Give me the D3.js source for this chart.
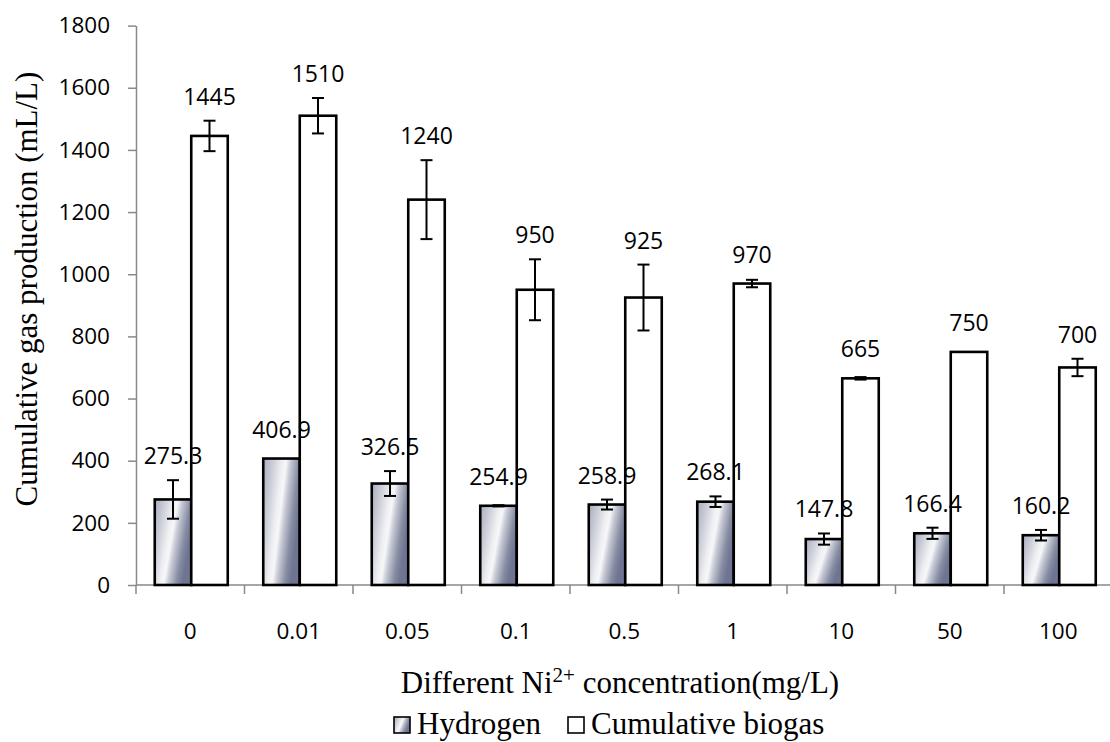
<!DOCTYPE html>
<html>
<head>
<meta charset="utf-8">
<script src="https://cdn.jsdelivr.net/npm/d3@7"></script>
<style>
  html, body { margin: 0; padding: 0; background: #fff; }
  svg { display: block; }
</style>
</head>
<body>
<svg id="chart" width="1110" height="742"></svg>
<script>
// Ni2+ concentration levels (mg/L)
const categories = ["0", "0.01", "0.05", "0.1", "0.5", "1", "10", "50", "100"];
// Hydrogen yield (mL/L) and its standard deviation
const hydrogen = [275.3, 406.9, 326.5, 254.9, 258.9, 268.1, 147.8, 166.4, 160.2];
const hydrogenErr = [62, 0, 40, 2, 16, 17, 18, 18, 17];
// Cumulative biogas (mL/L) and its standard deviation
const biogas = [1445, 1510, 1240, 950, 925, 970, 665, 750, 700];
const biogasErr = [49, 57, 127, 98, 106, 12, 4, 0, 28];
const yTicks = [0, 200, 400, 600, 800, 1000, 1200, 1400, 1600, 1800];
const seriesNames = ["Hydrogen", "Cumulative biogas"];

const svg = d3.select("#chart");
const plotLeft = 136, plotRight = 1112.5, plotTop = 25.6, plotBottom = 585;

const x = d3.scaleBand().domain(categories).range([plotLeft, plotRight]).paddingInner(0).paddingOuter(0);
const y = d3.scaleLinear().domain([0, 1800]).range([plotBottom, plotTop]);
const barW = 36.5;
const numFont = "'Open Sans', sans-serif";
const serifFont = "'Liberation Serif', 'Times New Roman', serif";

// chrome-like diagonal fill for the hydrogen bars
const defs = svg.append("defs");
const grad = defs.append("linearGradient")
  .attr("id", "chrome")
  .attr("x1", "0").attr("y1", "0").attr("x2", "1").attr("y2", "0.4");
[
  [0.00, "#a8acbd"],
  [0.25, "#cdcfd9"],
  [0.45, "#eeeff2"],
  [0.55, "#f7f7f9"],
  [0.66, "#c6c9d4"],
  [0.86, "#858ba1"],
  [1.00, "#6e7492"]
].forEach(([o, c]) => grad.append("stop").attr("offset", o).attr("stop-color", c));

const axisColor = "#898989";

// y axis
const yAxis = svg.append("g")
  .attr("transform", `translate(${plotLeft},0)`)
  .call(d3.axisLeft(y).tickValues(yTicks).tickFormat(d3.format("d"))
    .tickSize(8).tickPadding(18).tickSizeOuter(0));
yAxis.select(".domain").attr("stroke", axisColor).attr("stroke-width", 1.5);
yAxis.selectAll(".tick line").attr("stroke", axisColor).attr("stroke-width", 1.5);
yAxis.selectAll(".tick text")
  .attr("font-family", numFont)
  .attr("font-size", 22.5)
  .attr("fill", "#000");

// x axis: ticks sit on category boundaries
const xAxisG = svg.append("g").attr("transform", `translate(0,${plotBottom})`);
xAxisG.append("line")
  .attr("x1", plotLeft).attr("x2", plotRight)
  .attr("stroke", axisColor).attr("stroke-width", 1.5);
xAxisG.selectAll("line.tk")
  .data(categories.concat(["end"]))
  .join("line")
  .attr("class", "tk")
  .attr("x1", (d, i) => plotLeft + i * x.bandwidth())
  .attr("x2", (d, i) => plotLeft + i * x.bandwidth())
  .attr("y1", 0).attr("y2", 9)
  .attr("stroke", axisColor).attr("stroke-width", 1.5);
xAxisG.selectAll("text")
  .data(categories)
  .join("text")
  .attr("x", d => x(d) + x.bandwidth() / 2)
  .attr("y", 54)
  .attr("text-anchor", "middle")
  .attr("font-family", numFont)
  .attr("font-size", 22.5)
  .text(d => d);

const rows = categories.map((c, i) => ({
  c, i,
  series: [
    { key: 0, v: hydrogen[i], e: hydrogenErr[i] },
    { key: 1, v: biogas[i], e: biogasErr[i] }
  ]
}));

const groupOffset = (x.bandwidth() - 2 * barW) / 2 + 1;

const groups = svg.append("g").selectAll("g")
  .data(rows)
  .join("g")
  .attr("transform", d => `translate(${x(d.c) + groupOffset},0)`);

// bars
groups.selectAll("rect")
  .data(d => d.series)
  .join("rect")
  .attr("x", d => d.key * barW)
  .attr("y", d => y(d.v))
  .attr("width", barW)
  .attr("height", d => y(0) - y(d.v))
  .attr("fill", d => d.key === 0 ? "url(#chrome)" : "#fff")
  .attr("stroke", "#000")
  .attr("stroke-width", 2.6);

// error bars
const capHalf = 6;
const errG = groups.selectAll("g.err")
  .data(d => d.series.filter(s => s.e > 0))
  .join("g")
  .attr("class", "err")
  .attr("stroke", "#000")
  .attr("stroke-width", 2);
errG.append("line")
  .attr("x1", d => d.key * barW + barW / 2).attr("x2", d => d.key * barW + barW / 2)
  .attr("y1", d => y(d.v + d.e)).attr("y2", d => y(d.v - d.e));
errG.append("line")
  .attr("x1", d => d.key * barW + barW / 2 - capHalf).attr("x2", d => d.key * barW + barW / 2 + capHalf)
  .attr("y1", d => y(d.v + d.e)).attr("y2", d => y(d.v + d.e));
errG.append("line")
  .attr("x1", d => d.key * barW + barW / 2 - capHalf).attr("x2", d => d.key * barW + barW / 2 + capHalf)
  .attr("y1", d => y(d.v - d.e)).attr("y2", d => y(d.v - d.e));

// value labels above each bar / error bar
groups.selectAll("text.val")
  .data(d => d.series)
  .join("text")
  .attr("class", "val")
  .attr("x", d => d.key * barW + barW / 2)
  .attr("y", d => Math.min(y(d.v) - 21, y(d.v + d.e) - 16))
  .attr("text-anchor", "middle")
  .attr("font-family", numFont)
  .attr("font-size", 23)
  .attr("fill", "#000")
  .text(d => d.v);

// axis titles
svg.append("text")
  .attr("transform", `translate(37,289) rotate(-90)`)
  .attr("text-anchor", "middle")
  .attr("font-family", serifFont)
  .attr("font-size", 31)
  .text("Cumulative gas production (mL/L)");

const xt = svg.append("text")
  .attr("x", 620).attr("y", 693)
  .attr("text-anchor", "middle")
  .attr("font-family", serifFont)
  .attr("font-size", 31);
xt.append("tspan").text("Different Ni");
xt.append("tspan").attr("font-size", 21).attr("dy", -11).text("2+");
xt.append("tspan").attr("dy", 11).text(" concentration(mg/L)");

// legend
const legend = svg.append("g")
  .attr("font-family", serifFont)
  .attr("font-size", 31);
const legendX = [394, 568];
seriesNames.forEach((name, i) => {
  legend.append("rect")
    .attr("x", legendX[i]).attr("y", 717)
    .attr("width", 16).attr("height", 16)
    .attr("fill", i === 0 ? "url(#chrome)" : "#fff")
    .attr("stroke", "#000").attr("stroke-width", 1.6);
  legend.append("text")
    .attr("x", legendX[i] + 23).attr("y", 734)
    .text(name);
});
</script>
</body>
</html>
